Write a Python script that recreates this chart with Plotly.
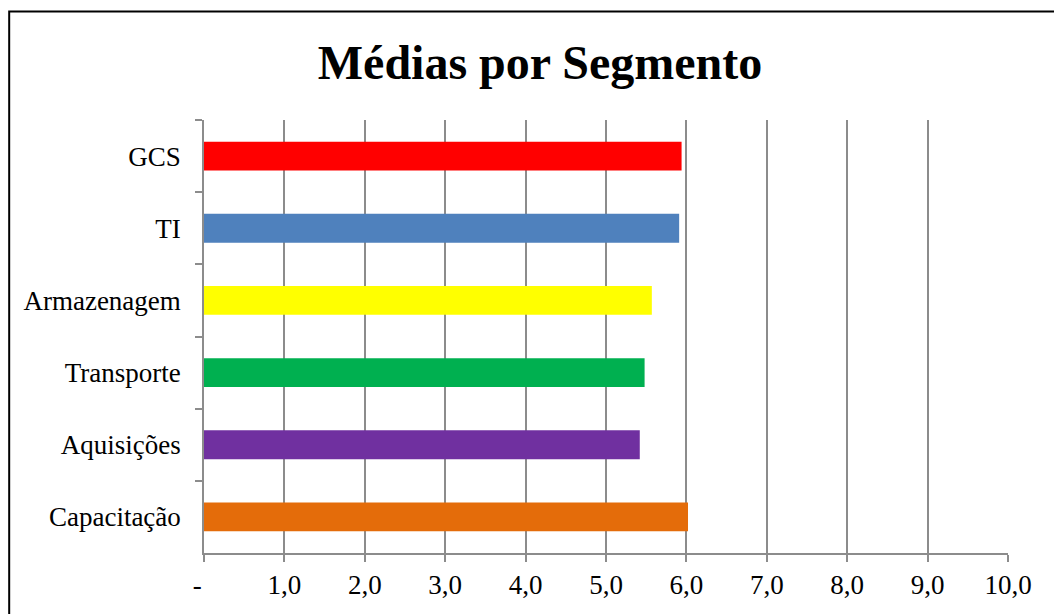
import plotly.graph_objects as go

categories = ["GCS", "TI", "Armazenagem", "Transporte", "Aquisições", "Capacitação"]
values = [5.94, 5.91, 5.57, 5.48, 5.42, 6.02]
colors = ["#FF0000", "#4F81BD", "#FFFF00", "#00B050", "#7030A0", "#E46C0A"]
x_tickvals = [0, 1, 2, 3, 4, 5, 6, 7, 8, 9, 10]
x_ticktext = ["-\u00a0\u00a0", "1,0", "2,0", "3,0", "4,0", "5,0", "6,0", "7,0", "8,0", "9,0", "10,0"]

font_family = "Liberation Serif, Times New Roman, serif"
grid_color = "#8C8C8C"

fig = go.Figure(go.Bar(
    y=categories, x=values, orientation="h",
    marker=dict(color=colors, line=dict(width=0)),
    width=0.4,
))

L, R, T, B = 203.5, 45.7, 120, 61
fig.update_layout(
    width=1054, height=614,
    margin=dict(l=L, r=R, t=T, b=B, pad=0),
    paper_bgcolor="white", plot_bgcolor="white",
    showlegend=False,
    title=dict(text="<b>Médias por Segmento</b>", x=540 / 1054, xref="container", xanchor="center",
               y=1 - 62 / 614, yref="container", yanchor="middle",
               font=dict(family=font_family, size=48, color="black")),
    font=dict(family=font_family, size=27, color="black"),
)
fig.update_xaxes(
    range=[0, 10], tickvals=x_tickvals, ticktext=x_ticktext,
    showgrid=True, gridcolor=grid_color, gridwidth=1.5,
    showline=True, linecolor=grid_color, linewidth=1.5,
    ticks="outside", ticklen=7, tickcolor=grid_color, tickwidth=1.5,
    zeroline=False, tickfont=dict(size=27, color="black"),
)
fig.update_yaxes(
    type="category", autorange="reversed", tickson="boundaries",
    showgrid=False, showline=True, linecolor=grid_color, linewidth=1.5,
    ticks="outside", ticklen=7, tickcolor=grid_color, tickwidth=1.5,
    ticklabelstandoff=16,
    tickfont=dict(size=27, color="black"),
)

pw = 1054 - L - R
ph = 614 - T - B
fig.add_shape(type="rect", xref="paper", yref="paper",
              x0=(8.5 - L) / pw, x1=(1100 - L) / pw,
              y0=(614 - B - 650) / ph, y1=(614 - B - 11.5) / ph,
              line=dict(color="black", width=2), fillcolor="rgba(0,0,0,0)", layer="above")

fig.write_html("out.html")
